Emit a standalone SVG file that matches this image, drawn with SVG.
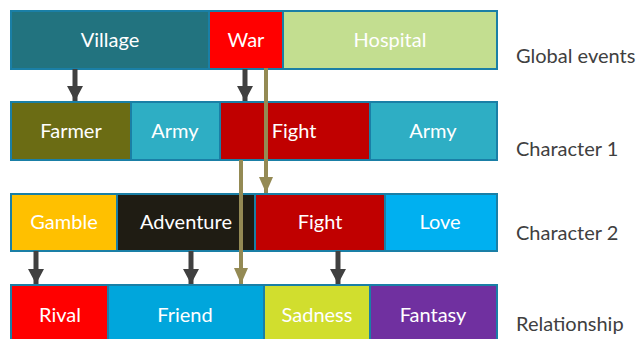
<svg xmlns="http://www.w3.org/2000/svg" width="641" height="339" viewBox="0 0 641 339">
  <style>
    .frame { fill: #1a7fa6; }
    .cell text, .lbl { font-family: Lato, "Open Sans", "Liberation Sans", sans-serif; font-size: 20px; }
    .cell text { fill: #ffffff; text-anchor: middle; }
    .lbl { fill: #404040; }
    .dk { stroke: #404040; stroke-width: 5; fill: none; }
    .ol { stroke: #948a54; stroke-width: 4; fill: none; }
  </style>
  <defs>
    <!-- arrowheads drawn along +x so orient="auto" turns them to the line direction -->
    <marker id="headDark" viewBox="0 0 15 16" refX="15" refY="8" markerUnits="userSpaceOnUse" markerWidth="15" markerHeight="16" orient="auto">
      <path d="M0,0 L15,8 L0,16 Z" fill="#404040"/>
    </marker>
    <marker id="headOlive" viewBox="0 0 16 14" refX="16" refY="7" markerUnits="userSpaceOnUse" markerWidth="16" markerHeight="14" orient="auto">
      <path d="M0,0 L16,7 L0,14 Z" fill="#948a54"/>
    </marker>
  </defs>

  <rect width="641" height="339" fill="#ffffff"/>

  <!-- Row 1: Global events -->
  <rect class="frame" x="10" y="10" width="488" height="60"/>
  <g id="village" class="cell"><rect x="12" y="12" width="196" height="56" fill="#22737f"/><text x="110" y="47">Village</text></g>
  <g id="war" class="cell"><rect x="210" y="12" width="72" height="56" fill="#ff0000"/><text x="246" y="47">War</text></g>
  <g id="hospital" class="cell"><rect x="284" y="12" width="212" height="56" fill="#c3de90"/><text x="390" y="47">Hospital</text></g>

  <!-- Row 2: Character 1 -->
  <rect class="frame" x="10" y="101" width="488" height="60"/>
  <g id="farmer" class="cell"><rect x="12" y="103" width="118" height="56" fill="#6b6c14"/><text x="71" y="138">Farmer</text></g>
  <g id="army1" class="cell"><rect x="132" y="103" width="87" height="56" fill="#2eaec4"/><text x="175" y="138">Army</text></g>
  <g id="fight1" class="cell"><rect x="221" y="103" width="148" height="56" fill="#c00000"/><text x="294" y="138">Fight</text></g>
  <g id="army2" class="cell"><rect x="371" y="103" width="125" height="56" fill="#2eaec4"/><text x="433" y="138">Army</text></g>

  <!-- Row 3: Character 2 -->
  <rect class="frame" x="10" y="193" width="488" height="59"/>
  <g id="gamble" class="cell"><rect x="12" y="195" width="104" height="55" fill="#ffc000"/><text x="64" y="229">Gamble</text></g>
  <g id="adventure" class="cell"><rect x="118" y="195" width="136" height="55" fill="#1f1c13"/><text x="186" y="229">Adventure</text></g>
  <g id="fight2" class="cell"><rect x="256" y="195" width="128" height="55" fill="#c00000"/><text x="320" y="229">Fight</text></g>
  <g id="love" class="cell"><rect x="386" y="195" width="110" height="55" fill="#00b0f0"/><text x="440" y="229">Love</text></g>

  <!-- Row 4: Relationship -->
  <rect class="frame" x="10" y="284" width="488" height="60"/>
  <g id="rival" class="cell"><rect x="12" y="286" width="95" height="58" fill="#ff0000"/><text x="60" y="322">Rival</text></g>
  <g id="friend" class="cell"><rect x="109" y="286" width="154" height="58" fill="#00a6dc"/><text x="185" y="322">Friend</text></g>
  <g id="sadness" class="cell"><rect x="265" y="286" width="104" height="58" fill="#d1de2e"/><text x="317" y="322">Sadness</text></g>
  <g id="fantasy" class="cell"><rect x="371" y="286" width="125" height="58" fill="#7030a0"/><text x="433" y="322">Fantasy</text></g>

  <!-- Row labels -->
  <g id="labels">
    <text class="lbl" x="516" y="63">Global events</text>
    <text class="lbl" x="516" y="156">Character 1</text>
    <text class="lbl" x="516" y="240">Character 2</text>
    <text class="lbl" x="516" y="331">Relationship</text>
  </g>

  <!-- Connectors -->
  <g id="connectors">
    <line class="dk" x1="75" y1="69" x2="75" y2="101" marker-end="url(#headDark)"/>
    <line class="dk" x1="245" y1="69" x2="245" y2="101" marker-end="url(#headDark)"/>
    <line class="dk" x1="36" y1="251" x2="36" y2="284" marker-end="url(#headDark)"/>
    <line class="dk" x1="191" y1="251" x2="191" y2="284" marker-end="url(#headDark)"/>
    <line class="dk" x1="338" y1="251" x2="338" y2="284" marker-end="url(#headDark)"/>
    <line class="ol" x1="266" y1="68" x2="266" y2="193" marker-end="url(#headOlive)"/>
    <line class="ol" x1="241" y1="160" x2="241" y2="284" marker-end="url(#headOlive)"/>
  </g>
</svg>
